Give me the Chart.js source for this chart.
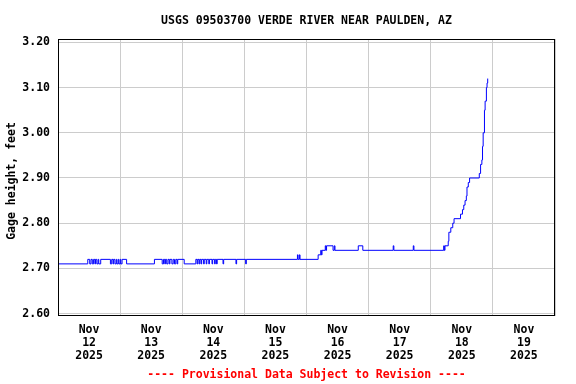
<!DOCTYPE html>
<html>
<head>
<meta charset="utf-8">
<script src="https://cdn.jsdelivr.net/npm/chart.js@4"></script>
<style>
  html, body { margin: 0; padding: 0; background: #ffffff; }
  #wrap { width: 576px; height: 384px; position: relative; }
</style>
</head>
<body>
<div id="wrap"><canvas id="c"></canvas></div>
<script>
// ---- data (hours since Nov 12 2025 00:00, gage height in feet; value holds until next point)
const chartTitle = 'USGS 09503700 VERDE RIVER NEAR PAULDEN, AZ';
const yAxisTitle = 'Gage height, feet';
const footnote = '---- Provisional Data Subject to Revision ----';
const dayLabels = ['12', '13', '14', '15', '16', '17', '18', '19'];
const monthLabel = 'Nov';
const yearLabel = '2025';
const yTickValues = [2.60, 2.70, 2.80, 2.90, 3.00, 3.10, 3.20];

const hours = [
  0, 11.5, 12.25, 12.75, 13.25, 13.75, 14.25, 14.5, 15.0, 15.5, 15.75, 16.5,
  20.25, 20.75, 21.25, 21.5, 22.0, 22.5, 22.75, 23.25, 23.5, 24.0, 24.25, 24.75, 26.5,
  37.25, 40.25, 40.75, 41.25, 41.5, 42.0, 42.5, 43.0, 43.25, 44.0, 44.5, 45.0, 45.5, 46.0, 46.25,
  48.75, 53.25, 53.75, 54.0, 54.5, 54.75, 55.25, 55.5, 56.25, 56.5, 57.25, 57.5, 58.25, 58.5,
  59.5, 59.75, 60.5, 60.75, 61.25, 61.5, 63.75, 64.0, 68.75, 69.0, 72.5, 72.75,
  92.5, 92.75, 93.25, 93.5, 100.5, 101.5, 101.75, 102.0, 103.25, 103.5, 103.75, 106.25, 106.75, 107.0,
  116.0, 117.75, 129.5, 129.75, 137.25, 137.5,
  149.0, 149.25, 149.5, 150.75, 151.0, 151.75, 152.5, 153.0, 155.5, 156.25, 156.75, 157.25, 157.75,
  158.0, 158.5, 159.0, 162.75, 163.25, 163.75, 164.0, 164.25, 164.75, 165.0, 165.5, 165.75, 166.0
];
const gage = [
  2.71, 2.72, 2.71, 2.72, 2.71, 2.72, 2.71, 2.72, 2.71, 2.72, 2.71, 2.72,
  2.71, 2.72, 2.71, 2.72, 2.71, 2.72, 2.71, 2.72, 2.71, 2.72, 2.71, 2.72, 2.71,
  2.72, 2.71, 2.72, 2.71, 2.72, 2.71, 2.72, 2.71, 2.72, 2.71, 2.72, 2.71, 2.72, 2.71, 2.72,
  2.71, 2.72, 2.71, 2.72, 2.71, 2.72, 2.71, 2.72, 2.71, 2.72, 2.71, 2.72, 2.71, 2.72,
  2.71, 2.72, 2.71, 2.72, 2.71, 2.72, 2.71, 2.72, 2.71, 2.72, 2.71, 2.72,
  2.73, 2.72, 2.73, 2.72, 2.73, 2.74, 2.73, 2.74, 2.75, 2.74, 2.75, 2.74, 2.75, 2.74,
  2.75, 2.74, 2.75, 2.74, 2.75, 2.74,
  2.75, 2.74, 2.75, 2.76, 2.78, 2.79, 2.80, 2.81, 2.82, 2.83, 2.84, 2.85, 2.86,
  2.88, 2.89, 2.90, 2.91, 2.93, 2.94, 2.97, 3.00, 3.05, 3.07, 3.10, 3.11, 3.12
];

const FONT = 'DejaVu Sans Mono';

const frame = {
  id: 'frame',
  afterDraw(chart) {
    const {ctx, chartArea: a} = chart;
    ctx.save();
    ctx.strokeStyle = '#000000';
    ctx.lineWidth = 1;
    ctx.strokeRect(Math.round(a.left) + 0.5, Math.round(a.top) + 0.5,
                   Math.round(a.right - a.left) - 1, Math.round(a.bottom - a.top) - 1);
    ctx.restore();
  }
};

new Chart(document.getElementById('c'), {
  type: 'line',
  data: {
    datasets: [{
      data: hours.map((h, i) => ({x: h, y: gage[i]})),
      borderColor: '#0000ff',
      borderWidth: 1,
      pointRadius: 0,
      stepped: true,
      fill: false
    }]
  },
  options: {
    responsive: true,
    maintainAspectRatio: false,
    animation: false,
    events: [],
    layout: { padding: { left: 0, right: 21, top: 0, bottom: 0 } },
    plugins: {
      legend: { display: false },
      tooltip: { enabled: false },
      title: {
        display: true,
        text: chartTitle,
        fullSize: false,
        color: '#000000',
        font: { family: FONT, size: 11.5, weight: 'bold', lineHeight: 1 },
        padding: { top: 15, bottom: 12.5 }
      }
    },
    scales: {
      x: {
        type: 'linear',
        min: 0,
        max: 192,
        afterBuildTicks(scale) {
          const t = [];
          for (let i = 0; i <= dayLabels.length * 2; i++) t.push({ value: i * 12 });
          scale.ticks = t;
        },
        afterFit(scale) { scale.height = 68; },
        grid: {
          drawTicks: false,
          color: (ctx) => (ctx.tick && ctx.tick.value % 24 === 0) ? '#cccccc' : 'rgba(0,0,0,0)',
          lineWidth: 1
        },
        border: { display: false },
        ticks: {
          autoSkip: false,
          maxRotation: 0,
          minRotation: 0,
          padding: 8,
          color: '#000000',
          font: { family: FONT, size: 11.5, weight: 'bold', lineHeight: 12.7 / 11.5 },
          callback: (v) => {
            if (v % 24 !== 12) return '';
            const d = dayLabels[Math.floor(v / 24)];
            return [monthLabel, d, yearLabel];
          }
        },
        title: {
          display: true,
          text: footnote,
          color: '#ff0000',
          font: { family: FONT, size: 11.5, weight: 'bold', lineHeight: 12 / 11.5 },
          padding: { top: 0, bottom: 3 }
        }
      },
      y: {
        type: 'linear',
        min: 2.5947,
        max: 3.2075,
        afterBuildTicks(scale) { scale.ticks = yTickValues.map(v => ({ value: v })); },
        afterFit(scale) { scale.width = 58; },
        grid: { drawTicks: false, color: '#cccccc', lineWidth: 1 },
        border: { display: false },
        ticks: {
          padding: 8,
          color: '#000000',
          font: { family: FONT, size: 11.5, weight: 'bold' },
          callback: (v) => Number(v).toFixed(2)
        },
        title: {
          display: true,
          text: yAxisTitle + ' ',
          color: '#000000',
          font: { family: FONT, size: 11.5, weight: 'bold', lineHeight: 1.2 },
          padding: { top: 5, bottom: 0 }
        }
      }
    }
  },
  plugins: [frame]
});
</script>
</body>
</html>
